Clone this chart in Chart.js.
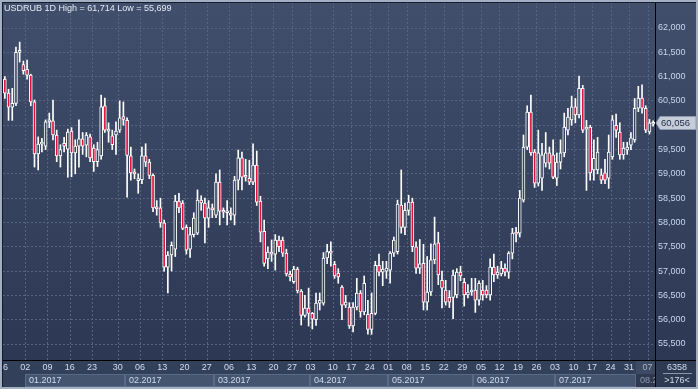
<!DOCTYPE html>
<html><head><meta charset="utf-8">
<script src="https://cdn.jsdelivr.net/npm/chart.js@4"></script>
<style>html,body{margin:0;padding:0;background:#2c3852;overflow:hidden}canvas{display:block}</style>
</head><body>
<canvas id="c" width="698" height="389"></canvas>
<script>
// ---- data (USDRUB daily) ----
const opens  = [60.95,60.66,60.37,60.45,61.50,61.25,61.15,61.03,60.48,59.41,59.61,59.57,60.07,60.09,59.80,59.37,59.63,59.51,59.88,59.43,59.57,59.72,59.59,59.76,59.53,59.25,59.37,60.40,59.88,59.78,59.80,59.90,60.18,60.10,59.37,59.02,58.86,58.88,59.37,59.24,58.97,58.30,58.30,57.99,57.08,57.33,57.45,58.44,58.40,57.90,57.45,57.75,57.78,58.46,58.40,58.09,58.30,58.15,58.83,58.23,58.20,58.19,58.15,58.87,59.33,58.97,58.91,58.83,59.18,58.44,57.82,57.25,57.39,57.35,57.64,57.64,57.37,56.94,56.78,57.04,56.59,56.09,56.24,56.13,56.00,56.34,56.34,57.27,57.39,57.14,56.96,56.67,56.30,56.26,55.87,56.26,56.55,56.16,56.11,55.80,56.13,57.12,56.98,57.00,57.02,57.37,57.40,58.36,57.90,58.25,58.42,57.50,57.06,57.16,56.36,56.57,57.23,57.58,56.81,56.61,56.46,56.46,56.51,56.98,56.77,56.51,56.57,56.61,56.40,56.61,56.61,56.51,57.08,56.92,56.94,57.06,56.98,57.37,57.80,57.78,58.46,59.55,60.27,59.45,58.81,58.91,59.22,59.43,59.39,58.91,59.24,59.43,59.90,60.11,60.38,60.21,60.76,59.92,59.96,59.08,59.08,58.98,59.02,58.91,59.35,60.00,59.86,59.39,59.49,59.59,59.70,60.35,60.56,60.35,59.86,60.02];
const highs  = [61.00,60.74,60.76,61.61,61.71,61.32,61.34,61.05,60.52,59.76,59.73,60.11,60.25,60.52,59.90,59.60,59.75,59.92,59.95,59.70,60.11,59.85,59.85,59.82,59.60,59.65,60.62,60.56,60.05,59.90,60.07,60.50,60.48,60.15,59.55,59.10,59.00,59.55,59.62,59.30,59.00,58.45,58.50,58.05,57.40,57.60,58.56,58.60,58.45,57.95,57.90,58.20,58.67,58.55,58.50,58.45,58.38,59.00,59.08,58.30,58.45,58.30,58.95,59.49,59.45,59.30,59.28,59.62,59.47,58.54,58.05,57.50,57.64,57.75,57.72,57.70,57.45,57.00,57.10,57.08,56.62,56.50,56.65,56.15,56.55,56.55,57.38,57.55,57.60,57.20,57.05,56.70,56.50,56.35,56.35,56.85,56.60,56.90,56.40,56.55,57.20,57.35,57.20,57.20,57.40,57.70,58.46,59.08,58.40,58.56,58.50,57.60,57.65,57.55,57.30,57.56,58.11,57.80,57.00,56.81,56.60,57.02,57.05,57.10,56.85,56.72,56.85,56.85,56.80,56.81,56.70,57.25,57.35,57.10,57.20,57.15,57.40,57.88,57.90,58.66,59.80,60.40,60.62,59.50,59.90,59.63,59.85,59.55,59.70,59.43,59.70,60.25,60.35,60.60,60.55,61.01,60.82,60.10,60.00,59.70,59.75,59.10,59.30,59.80,60.20,60.23,60.05,59.65,59.65,59.85,60.55,60.80,60.83,60.40,60.12,60.09];
const lows   = [60.55,60.10,60.10,60.40,61.30,61.05,60.95,60.40,59.14,59.08,59.45,59.50,59.95,59.70,59.25,59.14,59.45,58.93,58.94,59.00,59.14,59.40,59.35,59.25,59.05,59.15,59.30,59.85,59.65,59.50,59.40,59.85,60.00,58.52,58.87,58.90,58.60,58.80,59.15,58.90,58.22,58.15,57.90,57.00,56.55,57.00,57.30,58.20,57.85,57.35,57.28,57.70,57.75,58.25,57.58,57.90,58.10,58.10,57.95,58.10,57.95,58.05,57.95,58.67,58.67,58.85,58.78,58.78,58.35,57.60,57.10,57.05,57.20,57.02,57.40,57.30,56.90,56.80,56.75,56.55,55.89,56.05,55.87,55.81,55.88,56.20,56.30,57.15,57.10,56.85,56.75,56.00,56.25,55.82,55.75,56.20,56.05,56.10,55.70,55.70,56.10,56.90,56.70,56.85,56.75,57.30,57.35,57.78,57.75,58.15,57.40,56.95,56.95,56.20,56.20,56.50,57.15,56.72,56.24,56.30,56.25,56.02,56.45,56.80,56.28,56.45,56.50,56.15,56.30,56.40,56.45,56.40,56.78,56.85,56.90,56.90,56.85,57.25,57.60,57.70,58.42,59.50,59.38,58.72,58.75,58.66,59.14,59.10,58.90,58.76,59.10,59.35,59.80,60.00,60.05,60.15,59.85,58.66,58.87,58.87,59.00,58.80,58.80,58.70,59.30,59.75,59.30,59.30,59.40,59.50,59.65,60.28,60.25,59.85,59.82,59.98];
const closes = [60.66,60.37,60.45,61.50,61.53,61.12,61.03,60.48,59.41,59.61,59.63,60.07,60.10,59.80,59.37,59.50,59.57,59.86,59.43,59.57,59.72,59.57,59.80,59.33,59.25,59.50,60.38,59.90,59.90,59.60,59.88,60.15,60.12,59.38,59.02,59.00,58.90,59.37,59.24,58.97,58.30,58.28,57.99,57.08,57.33,57.53,58.44,58.30,57.88,57.43,57.75,58.09,58.46,58.40,58.09,58.30,58.26,58.83,58.23,58.21,58.22,58.15,58.87,59.33,58.93,58.93,58.83,59.18,58.42,57.80,57.16,57.39,57.35,57.64,57.50,57.37,56.94,56.88,57.04,56.59,56.09,56.24,56.13,56.01,56.34,56.40,57.27,57.40,57.37,56.90,56.88,56.30,56.36,55.87,56.26,56.55,56.16,56.75,55.80,56.13,57.12,56.98,57.04,57.06,57.37,57.64,58.38,57.90,58.25,58.42,57.50,57.06,57.15,56.36,56.57,57.23,57.56,56.92,56.65,56.36,56.36,56.92,56.98,56.90,56.51,56.57,56.61,56.40,56.75,56.51,56.51,57.08,56.92,56.98,57.06,56.98,57.37,57.78,57.76,58.50,59.55,60.27,59.43,58.81,59.43,59.39,59.43,59.22,58.93,59.24,59.43,59.96,60.17,60.38,60.21,60.76,59.90,59.96,59.02,59.32,59.45,58.87,58.87,59.45,60.11,59.90,59.39,59.53,59.55,59.74,60.35,60.56,60.35,59.90,60.05,60.056];
const bars = closes.map((_, i) => i);

const weekStartBars = [0,6,12,18,24,31,37,43,49,55,61,67,73,78,83,89,94,99,104,109,114,119,124,129,134,139,144,149,154,159,164,169,174];
const weekLabels = ['26','02','09','16','23','30','06','13','20','27','06','13','20','27','03','10','17','24','01','08','15','22','29','05','12','19','26','03','10','17','24','31','07'];
const monthStartBars = [6,33,57,83,104,127,149,171];
const monthLabels = ['01.2017','02.2017','03.2017','04.2017','05.2017','06.2017','07.2017','08.2'];
const yTickValues = [55.5,56,56.5,57,57.5,58,58.5,59,59.5,60,60.5,61,61.5,62];
const titleText = 'USDRUB 1D High = 61,714 Low = 55,699';
const lastPriceText = '60,056';
const cornerTop = '6358';
const cornerBottom = '>176<';

// ---- style ----
const FONT = '"Liberation Sans", Arial, sans-serif';
const RED = '#e3103e';
const cvs = document.getElementById('c');
const c2d = cvs.getContext('2d');
const grad = c2d.createLinearGradient(0, 0, 0, 389);
grad.addColorStop(0, '#414f6c');
grad.addColorStop(1, '#2b3651');

function boundary(xs, k) {
  const step = xs.getPixelForValue(1) - xs.getPixelForValue(0);
  return xs.getPixelForValue(k) - step / 2;
}

const deco = {
  id: 'deco',
  beforeDraw(chart) {
    const ctx = chart.ctx;
    ctx.save();
    ctx.fillStyle = grad;
    ctx.fillRect(0, 0, 698, 389);
    ctx.restore();
  },
  beforeDatasetsDraw(chart) {
    const ctx = chart.ctx, xs = chart.scales.x, ca = chart.chartArea;
    ctx.save();
    ctx.strokeStyle = '#56647f';
    ctx.lineWidth = 1;
    ctx.setLineDash([2, 2]);
    weekStartBars.forEach(k => {
      if (k === 0) return;
      const x = Math.round(boundary(xs, k)) + 0.5;
      ctx.beginPath(); ctx.moveTo(x, ca.top); ctx.lineTo(x, ca.bottom); ctx.stroke();
    });
    ctx.restore();
  },
  afterDraw(chart) {
    const ctx = chart.ctx, xs = chart.scales.x, ys = chart.scales.y, ca = chart.chartArea;
    ctx.save();
    // x axis strip
    ctx.fillStyle = '#33405a';
    ctx.fillRect(0, ca.bottom, 698, 389 - ca.bottom);
    // month boxes
    for (let i = 0; i < monthStartBars.length; i++) {
      const x0 = Math.round(boundary(xs, monthStartBars[i]));
      const x1 = i + 1 < monthStartBars.length ? Math.round(boundary(xs, monthStartBars[i + 1])) : ca.right;
      if (i === monthStartBars.length - 1) {
        ctx.fillStyle = '#3d4a63';
        ctx.fillRect(x0, ca.bottom + 1, x1 - x0, 13);
        ctx.fillStyle = '#2f3a51';
        ctx.fillRect(x0, ca.bottom + 14, x1 - x0, 13);
      } else {
        ctx.fillStyle = '#45546f';
        ctx.fillRect(x0, ca.bottom + 14, x1 - x0, 13);
        ctx.strokeStyle = '#5a6985';
        ctx.lineWidth = 1;
        ctx.strokeRect(x0 + 0.5, ca.bottom + 14.5, x1 - x0 - 1, 12);
      }
    }
    ctx.font = '9px ' + FONT;
    ctx.textBaseline = 'middle';
    ctx.textAlign = 'left';
    monthStartBars.forEach((k, i) => {
      const x0 = Math.round(boundary(xs, k));
      ctx.fillStyle = i === monthStartBars.length - 1 ? '#8d9ab0' : '#d2ddee';
      ctx.fillText(monthLabels[i], x0 + 4, ca.bottom + 21);
    });
    // day labels
    ctx.save();
    ctx.beginPath(); ctx.rect(ca.left, ca.bottom, ca.right - ca.left, 20); ctx.clip();
    ctx.textAlign = 'center';
    weekStartBars.forEach((k, i) => {
      const x = boundary(xs, k);
      ctx.fillStyle = i === weekStartBars.length - 1 ? '#a9b5c9' : '#d2ddee';
      ctx.fillText(weekLabels[i], x, ca.bottom + 8);
    });
    ctx.restore();
    // corner box
    ctx.fillStyle = '#2e3a52';
    ctx.fillRect(ca.right, ca.bottom, 698 - ca.right, 389 - ca.bottom);
    ctx.fillStyle = '#d2ddee';
    ctx.textAlign = 'center';
    ctx.fillText(cornerTop, 677, ca.bottom + 7.5);
    ctx.fillText(cornerBottom, 677, ca.bottom + 20.5);
    ctx.strokeStyle = '#8a98ae';
    ctx.beginPath(); ctx.moveTo(663, ca.bottom + 13.5); ctx.lineTo(692, ca.bottom + 13.5); ctx.stroke();
    // axis lines
    ctx.strokeStyle = '#000';
    ctx.lineWidth = 1;
    ctx.beginPath();
    ctx.moveTo(ca.right + 0.5, 2); ctx.lineTo(ca.right + 0.5, 389);
    ctx.moveTo(2, ca.bottom + 0.5); ctx.lineTo(698, ca.bottom + 0.5);
    ctx.stroke();
    // frame
    ctx.fillStyle = '#a3b0c3';
    ctx.fillRect(0, 0, 698, 2);
    ctx.fillRect(0, 0, 2, 389);
    ctx.fillRect(0, 387, 698, 2);
    ctx.fillRect(696, 0, 2, 389);
    ctx.fillStyle = '#141c2b';
    ctx.fillRect(2, 2, 694, 1);
    ctx.fillRect(2, 2, 1, 385);
    // last price tag
    const py = Math.round(ys.getPixelForValue(closes[closes.length - 1]));
    ctx.beginPath();
    ctx.moveTo(ca.right + 1, py);
    ctx.lineTo(ca.right + 5, py - 6.5);
    ctx.lineTo(696, py - 6.5);
    ctx.lineTo(696, py + 6.5);
    ctx.lineTo(ca.right + 5, py + 6.5);
    ctx.closePath();
    ctx.fillStyle = '#c6cdd8';
    ctx.fill();
    ctx.strokeStyle = '#8d99ab';
    ctx.stroke();
    ctx.fillStyle = '#1c2b4a';
    ctx.textAlign = 'left';
    ctx.font = '9.5px ' + FONT;
    ctx.fillText(lastPriceText, ca.right + 6, py);
    // title
    ctx.font = '9px ' + FONT;
    ctx.fillStyle = '#e3eaf4';
    ctx.fillText(titleText, 4, 9);
    ctx.restore();
  }
};

new Chart(cvs, {
  type: 'bar',
  data: {
    labels: bars,
    datasets: [
      {
        label: 'body',
        data: opens.map((o, i) => [o, closes[i]]),
        backgroundColor: c => closes[c.dataIndex] < opens[c.dataIndex] ? RED : grad,
        borderColor: '#ffffff',
        borderWidth: 1,
        borderSkipped: false,
        barThickness: 3,
        minBarLength: 2,
        grouped: false,
        order: 0
      },
      {
        label: 'wick',
        data: lows.map((l, i) => [l, highs[i]]),
        backgroundColor: '#ffffff',
        borderWidth: 0,
        barThickness: 1,
        grouped: false,
        order: 1
      }
    ]
  },
  options: {
    responsive: false,
    devicePixelRatio: 1,
    animation: false,
    layout: { padding: { left: 3, top: 2, right: 0, bottom: 0 } },
    plugins: { legend: { display: false }, tooltip: { enabled: false } },
    scales: {
      x: {
        type: 'category',
        offset: true,
        grid: { display: false },
        border: { display: false },
        ticks: { display: false },
        afterFit(s) { s.height = 29; s.paddingLeft = 0; s.paddingRight = 0; }
      },
      y: {
        position: 'right',
        min: 55.171,
        max: 62.535,
        afterBuildTicks(s) { s.ticks = yTickValues.map(v => ({ value: v })); },
        ticks: {
          callback: v => Number(v).toFixed(3).replace('.', ','),
          color: '#c9d6ec',
          font: { family: FONT, size: 9 },
          padding: 3
        },
        grid: { color: '#56647f', drawTicks: false },
        border: { display: false, dash: [2, 2] },
        afterFit(s) { s.width = 43; s.paddingTop = 0; s.paddingBottom = 0; }
      }
    }
  },
  plugins: [deco]
});
</script>
</body></html>
